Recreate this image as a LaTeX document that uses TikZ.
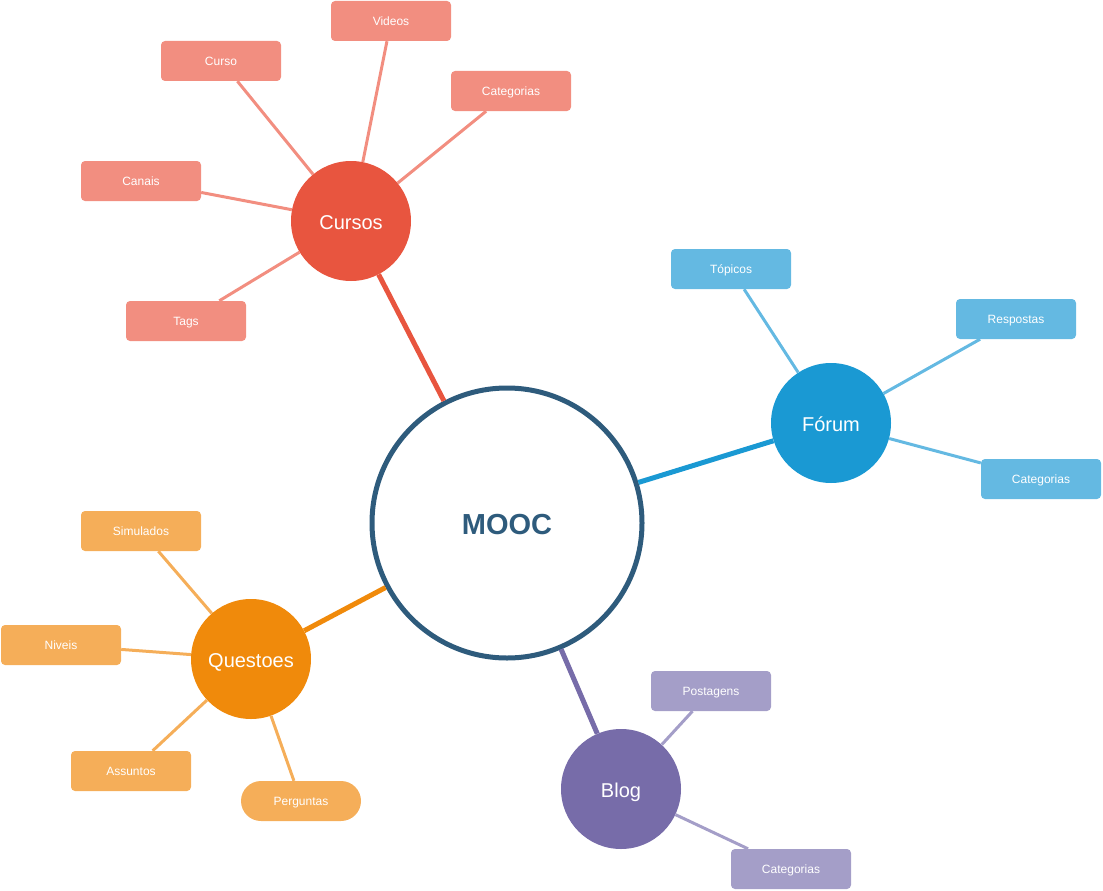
\documentclass[tikz,border=0pt]{standalone}
\usepackage{fontspec}
\setmainfont{Liberation Sans}
\definecolor{mooc}{HTML}{2E5B7C}
\definecolor{cur}{HTML}{E8553F}
\definecolor{curl}{HTML}{F28E80}
\definecolor{for}{HTML}{1A99D3}
\definecolor{forl}{HTML}{64B9E2}
\definecolor{que}{HTML}{F08A0B}
\definecolor{quel}{HTML}{F5AE59}
\definecolor{blo}{HTML}{776CA9}
\definecolor{blol}{HTML}{A49EC8}
\tikzset{
  hub/.style={circle, minimum size=120pt, inner sep=0pt, text=white, text height=16.3pt, text depth=0pt, font=\fontsize{20}{24}\selectfont},
  leaf/.style={rectangle, rounded corners=4pt, minimum width=120pt, minimum height=40pt, inner sep=0pt, text=white, text height=9.2pt, text depth=0pt, font=\fontsize{12}{14}\selectfont},
  main/.style={line width=5pt},
  sub/.style={line width=3pt},
}
\begin{document}
\begin{tikzpicture}[x=1pt,y=-1pt]
\useasboundingbox (0,0) rectangle (1103,891);
% center
\node[circle, draw=mooc, line width=5pt, minimum size=270pt, inner sep=0pt, text=mooc, text height=22pt, text depth=0pt, font=\fontsize{29}{34}\selectfont\bfseries] (mooc) at (507,523) {MOOC};
% hubs
\node[hub, fill=cur] (cursos) at (351,221) {Cursos};
\node[hub, fill=for] (forum) at (831,423) {Fórum};
\node[hub, fill=que] (quest) at (251,659) {Questoes};
\node[hub, fill=blo] (blog) at (621,789) {Blog};
% cursos leaves
\node[leaf, fill=curl] (videos) at (391,21) {Videos};
\node[leaf, fill=curl] (curso) at (221,61) {Curso};
\node[leaf, fill=curl] (catc) at (511,91) {Categorias};
\node[leaf, fill=curl] (canais) at (141,181) {Canais};
\node[leaf, fill=curl] (tags) at (186,321) {Tags};
% forum leaves
\node[leaf, fill=forl] (topicos) at (731,269) {Tópicos};
\node[leaf, fill=forl] (resp) at (1016,319) {Respostas};
\node[leaf, fill=forl] (catf) at (1041,479) {Categorias};
% questoes leaves
\node[leaf, fill=quel] (simul) at (141,531) {Simulados};
\node[leaf, fill=quel] (niveis) at (61,645) {Niveis};
\node[leaf, fill=quel] (assun) at (131,771) {Assuntos};
\node[leaf, fill=quel, rounded corners=20pt] (perg) at (301,801) {Perguntas};
% blog leaves
\node[leaf, fill=blol] (post) at (711,691) {Postagens};
\node[leaf, fill=blol] (catb) at (791,869) {Categorias};
% main connectors
\draw[main, cur] (mooc) -- (cursos);
\draw[main, for] (mooc) -- (forum);
\draw[main, que] (mooc) -- (quest);
\draw[main, blo] (mooc) -- (blog);
% sub connectors
\foreach \l in {videos,curso,catc,canais,tags} \draw[sub, curl] (cursos) -- (\l);
\foreach \l in {topicos,resp,catf} \draw[sub, forl] (forum) -- (\l);
\foreach \l in {simul,niveis,assun,perg} \draw[sub, quel] (quest) -- (\l);
\foreach \l in {post,catb} \draw[sub, blol] (blog) -- (\l);
\end{tikzpicture}
\end{document}
